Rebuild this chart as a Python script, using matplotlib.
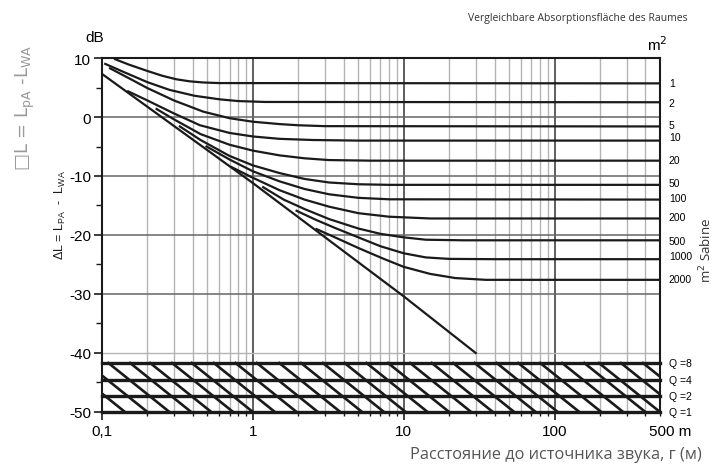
import matplotlib.pyplot as plt
from matplotlib.ticker import FixedLocator, NullFormatter

plt.rcParams['font.family'] = ['Liberation Sans', 'DejaVu Sans']

# room absorption area (m2 Sabine) for each curve
areas = ["1", "2", "5", "10", "20", "50", "100", "200", "500", "1000", "2000"]

# distance r (m) and level difference (dB)
curve_r = [
    [0.122, 0.15, 0.2, 0.25, 0.31, 0.38, 0.47, 0.6, 500],
    [0.105, 0.14, 0.2, 0.28, 0.41, 0.6, 0.8, 1.2, 500],
    [0.113, 0.15, 0.2, 0.3, 0.47, 0.7, 1.0, 1.5, 2.0, 3.0, 500],
    [0.149, 0.2, 0.3, 0.446, 0.7, 1.0, 1.5, 2.5, 5.0, 500],
    [0.23, 0.3, 0.45, 0.7, 1.0, 1.5, 2.2, 3.2, 6.0, 500],
    [0.328, 0.45, 0.7, 1.0, 1.5, 2.2, 3.2, 5.0, 8.0, 500],
    [0.493, 0.7, 1.0, 1.5, 2.2, 3.2, 5.0, 8.0, 500],
    [0.723, 1.0, 1.5, 2.2, 3.2, 5.0, 8.0, 15, 500],
    [1.17, 1.6, 2.2, 3.2, 5.0, 7.0, 10, 14, 25, 500],
    [1.95, 2.6, 3.5, 5.0, 7.0, 10, 14, 20, 40, 500],
    [2.64, 3.5, 5.0, 7.3, 10, 15, 22, 35, 500],
]
curve_db = [
    [9.8, 8.9, 7.8, 7.0, 6.4, 6.05, 5.85, 5.75, 5.7],
    [9.0, 7.6, 5.9, 4.6, 3.6, 3.0, 2.7, 2.55, 2.5],
    [8.25, 6.6, 4.9, 2.8, 0.9, -0.2, -0.8, -1.2, -1.4, -1.55, -1.6],
    [4.35, 2.8, 0.6, -1.4, -2.7, -3.3, -3.7, -3.9, -4.0, -4.0],
    [1.35, -0.4, -2.9, -4.7, -5.7, -6.5, -7.0, -7.3, -7.4, -7.4],
    [-1.6, -3.9, -6.6, -8.2, -9.5, -10.5, -11.1, -11.4, -11.5, -11.5],
    [-5.0, -7.2, -9.2, -10.9, -12.2, -13.1, -13.7, -13.95, -14.0],
    [-8.5, -10.3, -12.4, -14.0, -15.2, -16.3, -16.9, -17.2, -17.2],
    [-11.9, -14.0, -15.6, -17.3, -18.9, -19.8, -20.4, -20.8, -20.9, -20.9],
    [-15.9, -17.4, -18.8, -20.4, -21.9, -23.1, -23.8, -24.05, -24.1, -24.1],
    [-19.0, -20.4, -22.2, -24.0, -25.4, -26.6, -27.3, -27.6, -27.6],
]
label_db = [5.7, 2.3, -1.4, -3.4, -7.3, -11.2, -13.7, -17.0, -21.0, -23.5, -27.4]

# direct field line
direct_r = [0.1, 1, 10, 30]
direct_db = [7.3, -11.2, -30.4, -40.0]

# directivity lines at the bottom
q_labels = ["Q =8", "Q =4", "Q =2", "Q =1"]
q_db = [-41.7, -44.6, -47.3, -50.0]

# hatch diagonals: where each meets the Q=1 line
hatch_r_bottom = [0.1, 0.142, 0.2, 0.28, 0.39, 0.53, 0.74, 1.0, 1.4, 1.95, 2.7, 3.8,
                  5.3, 7.4, 10.3, 14.4, 20, 28, 39, 54, 75, 105, 146, 204, 285,
                  400, 500, 700, 980, 1370]
hatch_ratio = 2.54   # horizontal extent of one diagonal over the band

fig = plt.figure(figsize=(7.16, 4.77), dpi=100)
ax = fig.add_axes([0.1425, 0.1342, 0.7793, 0.7421])
ax.set_xscale('log')
ax.set_xlim(0.1, 500)
ax.set_ylim(-50, 10)

# grid
minor_x = [k * 10.0 ** e for e in (-1, 0, 1, 2) for k in range(2, 10)
           if k * 10.0 ** e < 500]
for x in minor_x:
    ax.axvline(x, color='#b4b4b4', lw=1.0, zorder=1)
for x in (1, 10, 100):
    ax.axvline(x, color='#333333', lw=1.1, zorder=1)
for y in (0, -10, -20, -30):
    ax.axhline(y, color='#666666', lw=1.1, zorder=1)
ax.axhline(-40, color='#b4b4b4', lw=1.0, zorder=1)

# curves
for r, db in zip(curve_r, curve_db):
    ax.plot(r, db, color='#1a1a1a', lw=1.6, zorder=3, solid_joinstyle='round')
ax.plot(direct_r, direct_db, color='#1a1a1a', lw=1.6, zorder=3)

# bottom nomogram
for y in q_db:
    ax.axhline(y, color='#1a1a1a', lw=2.4, zorder=4, clip_on=False)
for rb in hatch_r_bottom:
    ax.plot([rb / hatch_ratio, rb], [q_db[0], q_db[-1]], color='#1a1a1a',
            lw=1.9, zorder=4)

for s in ('left', 'top', 'right'):
    ax.spines[s].set_color('#1a1a1a')
    ax.spines[s].set_linewidth(1.5)
    ax.spines[s].set_zorder(5)
ax.spines['bottom'].set_visible(False)

ax.yaxis.set_major_locator(FixedLocator([10, 0, -10, -20, -30, -40, -50]))
ax.yaxis.set_minor_locator(FixedLocator([5, -5, -15, -25, -35, -45]))
ax.set_yticklabels(['10', '0', '-10', '-20', '-30', '-40', '-50'])
ax.tick_params(axis='y', which='major', length=6, width=1.2, color='#1a1a1a',
               labelsize=11, pad=2)
ax.tick_params(axis='y', which='minor', length=4, width=1.0, color='#1a1a1a')

ax.xaxis.set_major_locator(FixedLocator([0.1, 1, 10, 100]))
ax.xaxis.set_minor_locator(FixedLocator(minor_x + [500]))
ax.xaxis.set_minor_formatter(NullFormatter())
ax.set_xticklabels(['0,1', '1', '10', '100'])
ax.tick_params(axis='x', which='major', length=6, width=1.2, color='#1a1a1a',
               labelsize=11, pad=3)
ax.tick_params(axis='x', which='minor', length=3, width=1.0, color='#1a1a1a')
ax.annotate('500 m', xy=(500, 0), xycoords=('data', 'axes fraction'),
            xytext=(-8, -9), textcoords='offset points', ha='left', va='top',
            fontsize=11)

# right side labels
ytr = ax.get_yaxis_transform()
for name, y in zip(areas, label_db):
    ax.text(1.016, y, name, transform=ytr, fontsize=7.5, va='center', ha='left')
for name, y in zip(q_labels, q_db):
    ax.text(1.016, y, name, transform=ytr, fontsize=7.5, va='center', ha='left')

fig.text(95 / 716, 1 - 38 / 477, 'dB', fontsize=11, ha='center', va='center')
fig.text(657 / 716, 1 - 45 / 477, 'm$^2$', fontsize=11, ha='center', va='center')
fig.text(706 / 716, 1 - 250 / 477, 'm$^2$ Sabine', fontsize=9.5, rotation=90,
         ha='center', va='center', color='#333333',
         family=['Open Sans', 'DejaVu Sans'])
fig.text(578 / 716, 1 - 18 / 477, 'Vergleichbare Absorptionsfläche des Raumes',
         fontsize=7.5, ha='center', va='center', color='#333333',
         family=['Open Sans', 'DejaVu Sans'])
fig.text(556 / 716, 1 - 455 / 477, 'Расстояние до источника звука, г (м)',
         fontsize=11.8, ha='center', va='center', color='#555555',
         family=['Open Sans', 'DejaVu Sans'])
fig.text(25 / 716, 1 - 108 / 477,
         '□L = L$_\\mathregular{pA}$ -L$_\\mathregular{WA}$', fontsize=13,
         rotation=90, ha='center', va='center', color='#999999',
         family='DejaVu Sans')
fig.text(60 / 716, 1 - 215 / 477,
         'ΔL = L$_\\mathregular{PA}$  -  L$_\\mathregular{WA}$', fontsize=9,
         rotation=90, ha='center', va='center', color='#1a1a1a')

fig.savefig('out.png', dpi=100)
